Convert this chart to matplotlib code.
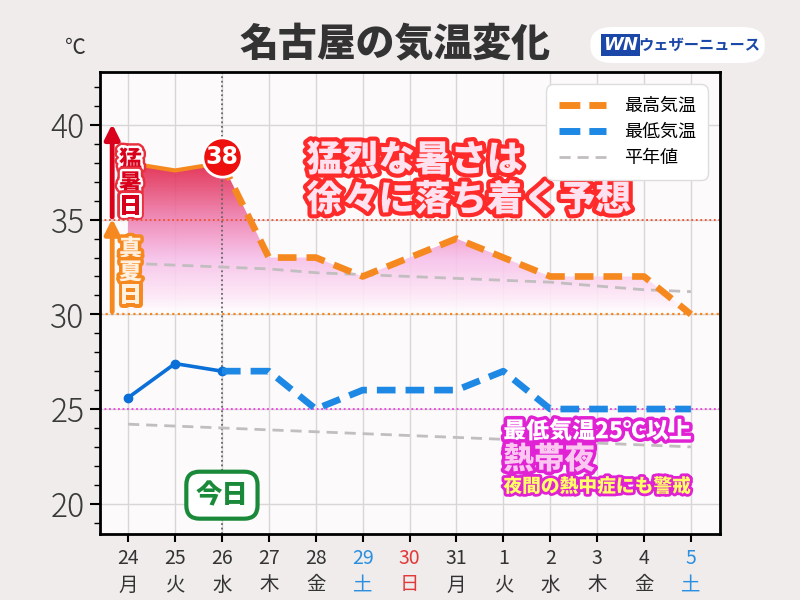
import numpy as np
import matplotlib
matplotlib.use("Agg")
import matplotlib.pyplot as plt
import matplotlib.patheffects as pe
from matplotlib.colors import LinearSegmentedColormap
from matplotlib.patches import FancyBboxPatch
from matplotlib.lines import Line2D

plt.rcParams['font.family'] = ['Noto Sans CJK JP', 'DejaVu Sans']

# ---- data ----
days = ["24", "25", "26", "27", "28", "29", "30", "31", "1", "2", "3", "4", "5"]
weekdays = ["月", "火", "水", "木", "金", "土", "日", "月", "火", "水", "木", "金", "土"]
t_max = [38.0, 37.6, 38.0, 33, 33, 32, 33, 34, 33, 32, 32, 32, 30]
t_min = [25.6, 27.4, 27.0, 27, 25, 26, 26, 26, 27, 25, 25, 25, 25]
avg_max = [32.7, 32.6, 32.5, 32.4, 32.2, 32.1, 32.0, 31.9, 31.8, 31.7, 31.5, 31.3, 31.2]
avg_min = [24.2, 24.1, 24.0, 23.9, 23.8, 23.7, 23.6, 23.5, 23.4, 23.3, 23.2, 23.1, 23.0]
today_idx = 2

x = np.arange(len(days))

ORANGE = "#f5891f"
BLUE = "#1e88e5"
BLUE_D = "#0a6fd6"
GREY = "#c2bec0"

fig = plt.figure(figsize=(8, 6), dpi=100, facecolor="#efeceb")
ax = fig.add_axes([0.125, 0.11, 0.775, 0.77])
ax.set_facecolor("#fcfafb")

# grid / ticks
ax.set_yticks([20, 25, 30, 35, 40])
ax.set_yticks(np.arange(19, 43), minor=True)
ax.set_xticks(x)
ax.grid(True, which="major", color="#d9d6d8", lw=1)
ax.set_axisbelow(True)
for s in ax.spines.values():
    s.set_linewidth(2)
    s.set_color("black")
ax.tick_params(axis="y", which="major", labelsize=23, labelcolor="#3a3a3a", length=7, width=1.5, pad=4)
ax.tick_params(axis="y", which="minor", length=4, width=1)
ax.tick_params(axis="x", labelsize=14, labelcolor="#333333", length=6, width=1.5, pad=4)
ax.set_xticklabels([f"{d}\n{w}" for d, w in zip(days, weekdays)], linespacing=1.35)
for lbl, w in zip(ax.get_xticklabels(), weekdays):
    if w == "土":
        lbl.set_color("#2a8fe0")
    elif w == "日":
        lbl.set_color("#e03a3a")
for lbl in ax.get_yticklabels():
    lbl.set_fontweight("light")

# reference lines
ax.axhline(35, color="#f0502a", ls=(0, (1, 1.5)), lw=1.3, zorder=2)
ax.axhline(30, color="#f5891f", ls=(0, (1, 1.5)), lw=1.6, zorder=2)
ax.axhline(25, color="#ee3ee0", ls=(0, (1, 1.5)), lw=1.3, zorder=2)
ax.axvline(today_idx, color="#666666", ls=(0, (1, 1.5)), lw=1.3, zorder=2)

# gradient fill under max temp
poly = ax.fill_between(x, t_max, 30, color="none", lw=0)
cmap = LinearSegmentedColormap.from_list(
    "heat", [(0.0, "#ffffff"), (0.12, "#fde6f6"), (0.35, "#f7bfe9"), (0.6, "#ee7fb0"), (1.0, "#de0f33")])
grad = np.linspace(0, 1, 256).reshape(-1, 1)
im = ax.imshow(grad, cmap=cmap, origin="lower", aspect="auto",
               extent=(-0.6, 12.62, 30, 38.3), alpha=0.88, zorder=1)
im.set_clip_path(poly.get_paths()[0], transform=ax.transData)
ax.set_xlim(-0.6, 12.62)
ax.set_ylim(18.4, 42.8)

# average lines
ax.plot(x, avg_max, color=GREY, lw=2, ls=(0, (4, 2.5)), zorder=3)
ax.plot(x, avg_min, color=GREY, lw=2, ls=(0, (4, 2.5)), zorder=3)

# max temp
ax.plot(x[:today_idx + 1], t_max[:today_idx + 1], color=ORANGE, lw=3, zorder=4)
ax.plot(x[today_idx:], t_max[today_idx:], color=ORANGE, lw=4.8, ls=(0, (2.8, 1.5)), zorder=4)
# min temp
ax.plot(x[:today_idx + 1], t_min[:today_idx + 1], color=BLUE_D, lw=2.6, marker="o", ms=6, zorder=4)
ax.plot(x[today_idx:], t_min[today_idx:], color=BLUE, lw=4.8, ls=(0, (2.8, 1.5)), zorder=4)

# 38 bubble
ax.scatter([today_idx], [38.3], s=800, color="#ee0f0f", edgecolor="white", lw=2, zorder=6)
ax.text(today_idx, 38.3, "38", color="white", fontsize=17, fontweight="bold",
        ha="center", va="center", zorder=7, family="DejaVu Sans")

# legend
handles = [Line2D([], [], color=ORANGE, lw=5, ls=(0, (3, 1.3))),
           Line2D([], [], color=BLUE, lw=5, ls=(0, (3, 1.3))),
           Line2D([], [], color=GREY, lw=2, ls=(0, (4, 2.5)))]
leg = ax.legend(handles, ["最高気温", "最低気温", "平年値"], loc="upper right",
                fontsize=13, handlelength=2.6, borderpad=0.5, labelspacing=0.45,
                handletextpad=1.0, framealpha=1, edgecolor="#dddddd",
                bbox_to_anchor=(0.99, 0.985))
leg.get_frame().set_boxstyle("round,pad=0.2,rounding_size=0.4")
leg.set_zorder(8)

# left arrows + labels
ax.annotate("", xy=(-0.34, 40.2), xytext=(-0.34, 35),
            arrowprops=dict(arrowstyle="-|>", lw=3.5, color="#d8001b", mutation_scale=22), zorder=5)
ax.annotate("", xy=(-0.34, 35.2), xytext=(-0.34, 30),
            arrowprops=dict(arrowstyle="-|>", lw=3.5, color="#f5891f", mutation_scale=22), zorder=5)
ax.text(0.05, 36.9, "猛\n暑\n日", color="#d8001b", fontsize=16.5, fontweight="heavy",
        ha="center", va="center", linespacing=1.02, zorder=6,
        path_effects=[pe.withStroke(linewidth=7, foreground="#e8303e"),
                      pe.withStroke(linewidth=3.5, foreground="white")])
ax.text(0.05, 32.2, "真\n夏\n日", color="#fff0e0", fontsize=16.5, fontweight="heavy",
        ha="center", va="center", linespacing=1.02, zorder=6,
        path_effects=[pe.withStroke(linewidth=5, foreground="#f5891f")])

# main comment (two lines)
comment_fx = [pe.withStroke(linewidth=6, foreground="#ff2a2a")]
ax.text(3.8, 38.15, "猛烈な暑さは", color="#ffe2ef", fontsize=26,
        fontweight="heavy", ha="left", va="center", zorder=6, path_effects=comment_fx)
ax.text(3.8, 36.05, "徐々に落ち着く予想", color="#ffe2ef", fontsize=26,
        fontweight="heavy", ha="left", va="center", zorder=6, path_effects=comment_fx)

# tropical night notes
ax.text(8.0, 23.8, "最低気温25℃以上", color="white", fontsize=16.5, fontweight="heavy",
        ha="left", va="center", zorder=6,
        path_effects=[pe.withStroke(linewidth=5, foreground="#e022d4")])
ax.text(8.0, 22.35, "熱帯夜", color="#fbc6ef", fontsize=22, fontweight="heavy",
        ha="left", va="center", zorder=6,
        path_effects=[pe.withStroke(linewidth=5, foreground="#e022d4")])
ax.text(8.0, 20.9, "夜間の熱中症にも警戒", color="#ffff66", fontsize=13.5, fontweight="heavy",
        ha="left", va="center", zorder=6,
        path_effects=[pe.withStroke(linewidth=4, foreground="#e022d4")])

# today box
ax.text(today_idx, 20.45, "今日", color="#1a8a3a", fontsize=19, fontweight="heavy",
        ha="center", va="center", zorder=6,
        bbox=dict(boxstyle="round,pad=0.35,rounding_size=0.5", fc="white", ec="#1a8a3a", lw=3))

# title, unit, logo
fig.text(0.494, 0.925, "名古屋の気温変化", fontsize=28, fontweight="heavy", color="#333333",
         ha="center", va="center")
fig.text(0.094, 0.92, "℃", fontsize=15, color="#333333", ha="center", va="center")
logo = FancyBboxPatch((0.738, 0.895), 0.218, 0.06, boxstyle="round,pad=0,rounding_size=0.028",
                      transform=fig.transFigure, fc="white", ec="none")
fig.patches.append(logo)
fig.text(0.776, 0.925, "WN", fontsize=13, fontweight="bold", fontstyle="italic", color="white",
         ha="center", va="center", family="DejaVu Sans",
         bbox=dict(boxstyle="square,pad=0.12", fc="#1a47a8", ec="none"))
fig.text(0.874, 0.925, "ウェザーニュース", fontsize=11, fontweight="bold", color="#1a47a8",
         ha="center", va="center")

fig.savefig("out.png", dpi=100, facecolor=fig.get_facecolor())
